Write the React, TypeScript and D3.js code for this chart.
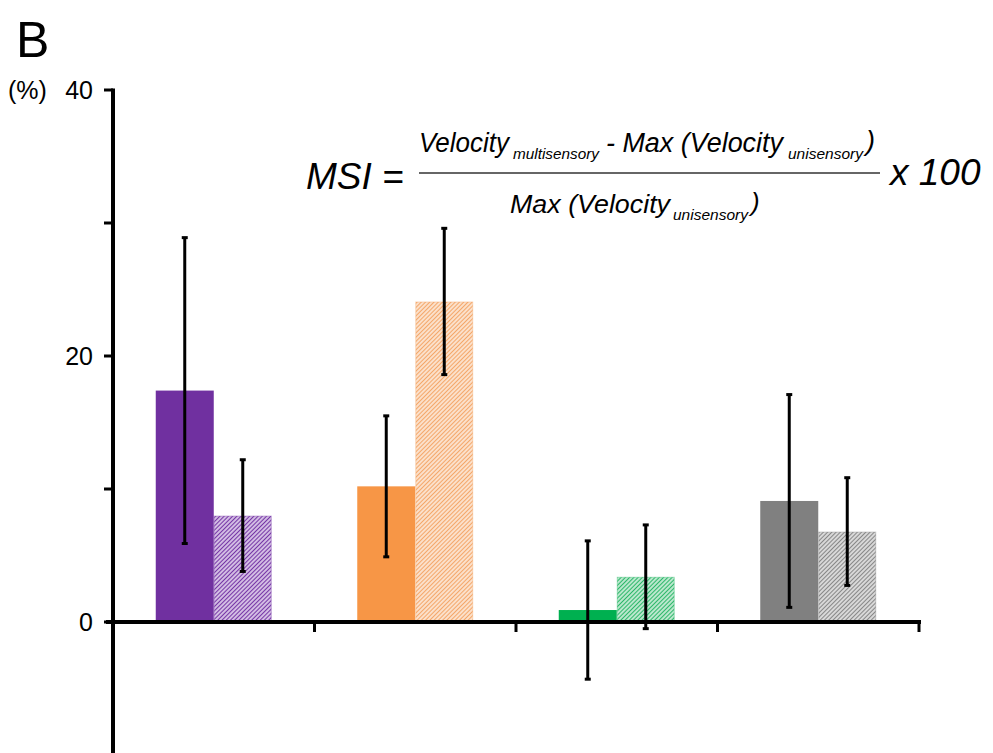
import React from "react";
import * as d3 from "d3";

const categories = ["Group 1", "Group 2", "Group 3", "Group 4"];
const seriesKeys = ["solid", "hatched"];
const solidValues = [17.4, 10.2, 0.9, 9.1];
const solidErrors = [11.5, 5.3, 5.2, 8.0];
const hatchedValues = [8.0, 24.1, 3.4, 6.8];
const hatchedErrors = [4.2, 5.5, 3.9, 4.05];
const colors = ["#7030A0", "#F79646", "#00B050", "#808080"];
const hatchColors = ["#7636A6", "#F4A76A", "#2DB86A", "#878787"];
const hatchBgs = ["#F1E8F7", "#FEF3EA", "#E8F7EE", "#F3F3F3"];
const yTicks = [0, 10, 20, 30, 40];
const yTickLabels = ["0", "", "20", "", "40"];

const W = 993;
const H = 753;
const FONT = "'Liberation Sans', Arial, sans-serif";

export default function App() {
  const y = d3.scaleLinear().domain([-10, 40]).range([755, 90]);
  const x = d3.scaleBand<string>().domain(categories).range([113, 919]).padding(0);
  const bw = x.bandwidth();
  const groupW = 116;
  const inner = d3
    .scaleBand<string>()
    .domain(seriesKeys)
    .range([(bw - groupW) / 2, (bw + groupW) / 2])
    .padding(0);
  const barW = inner.bandwidth();
  const y0 = y(0);

  const rows = categories.map((c, i) => ({
    c,
    i,
    items: [
      { key: "solid", v: solidValues[i], e: solidErrors[i] },
      { key: "hatched", v: hatchedValues[i], e: hatchedErrors[i] },
    ],
  }));

  const xTicks = categories.map((c) => (x(c) as number) + bw);

  return (
    <svg
      width={W}
      height={H}
      style={{ position: "absolute", left: 0, top: 0, background: "#fff" }}
      fontFamily={FONT}
    >
      <defs>
        {categories.map((c, i) => (
          <pattern
            key={c}
            id={`hatch${i}`}
            patternUnits="userSpaceOnUse"
            width={3}
            height={3}
            patternTransform="rotate(45)"
          >
            <rect width={3} height={3} fill={hatchBgs[i]} />
            <line x1={1.5} y1={0} x2={1.5} y2={3} stroke={hatchColors[i]} strokeWidth={1.5} />
          </pattern>
        ))}
      </defs>
      <rect x={0} y={0} width={W} height={H} fill="#fff" />

      {/* bars */}
      {rows.map((r) =>
        r.items.map((it) => {
          const bx = (x(r.c) as number) + (inner(it.key) as number);
          const top = y(Math.max(0, it.v));
          const h = Math.abs(y(it.v) - y0);
          return it.key === "solid" ? (
            <rect key={r.c + it.key} x={bx} y={top} width={barW} height={h} fill={colors[r.i]} />
          ) : (
            <rect
              key={r.c + it.key}
              x={bx + 0.5}
              y={top + 0.5}
              width={barW - 1}
              height={h - 0.5}
              fill={`url(#hatch${r.i})`}
              stroke={hatchColors[r.i]}
              strokeOpacity={0.4}
              strokeWidth={1}
            />
          );
        })
      )}

      {/* x axis */}
      <line x1={106} x2={921} y1={y0} y2={y0} stroke="#000" strokeWidth={4} />
      {xTicks.map((t, i) => (
        <line key={i} x1={t} x2={t} y1={y0} y2={y0 + 10} stroke="#000" strokeWidth={3} />
      ))}

      {/* y axis */}
      <line x1={113} x2={113} y1={y(40) - 1.5} y2={H} stroke="#000" strokeWidth={4} />
      {yTicks.map((t, i) => (
        <g key={t}>
          <line x1={104} x2={113} y1={y(t)} y2={y(t)} stroke="#000" strokeWidth={3} />
          {yTickLabels[i] && (
            <text x={93} y={y(t)} dy="0.36em" textAnchor="end" fontSize={25} fill="#000">
              {yTickLabels[i]}
            </text>
          )}
        </g>
      ))}

      {/* error bars */}
      {rows.map((r) =>
        r.items.map((it) => {
          const cx = (x(r.c) as number) + (inner(it.key) as number) + barW / 2;
          const yt = y(it.v + it.e);
          const yb = y(it.v - it.e);
          return (
            <g key={"e" + r.c + it.key}>
              <line x1={cx} x2={cx} y1={yt} y2={yb} stroke="#000" strokeWidth={3} />
              <line x1={cx - 3} x2={cx + 3} y1={yt} y2={yt} stroke="#000" strokeWidth={3} />
              <line x1={cx - 3} x2={cx + 3} y1={yb} y2={yb} stroke="#000" strokeWidth={3} />
            </g>
          );
        })
      )}

      {/* labels */}
      <text x={16} y={57} fontSize={50} fill="#000">B</text>
      <text x={8} y={y(40)} dy="0.36em" fontSize={25} fill="#000">(%)</text>

      {/* formula */}
      <g fontStyle="italic" fill="#000">
        <text x={306} y={189} fontSize={37}>MSI =</text>
        <text x={419} y={152} fontSize={27} textLength={90} lengthAdjust="spacingAndGlyphs">Velocity</text>
        <text x={513} y={159} fontSize={15.5} textLength={86} lengthAdjust="spacingAndGlyphs">multisensory</text>
        <text x={606} y={152} fontSize={27} textLength={177} lengthAdjust="spacingAndGlyphs">- Max (Velocity</text>
        <text x={788} y={159} fontSize={15.5} textLength={75} lengthAdjust="spacingAndGlyphs">unisensory</text>
        <text x={866} y={150} fontSize={27}>)</text>
        <line x1={419} x2={880} y1={173} y2={173} stroke="#333" strokeWidth={1.5} />
        <text x={510} y={213} fontSize={26} textLength={160} lengthAdjust="spacingAndGlyphs">Max (Velocity</text>
        <text x={673} y={220} fontSize={15.5} textLength={75} lengthAdjust="spacingAndGlyphs">unisensory</text>
        <text x={751} y={211} fontSize={26}>)</text>
        <text x={890} y={185} fontSize={37}>x 100</text>
      </g>
    </svg>
  );
}
